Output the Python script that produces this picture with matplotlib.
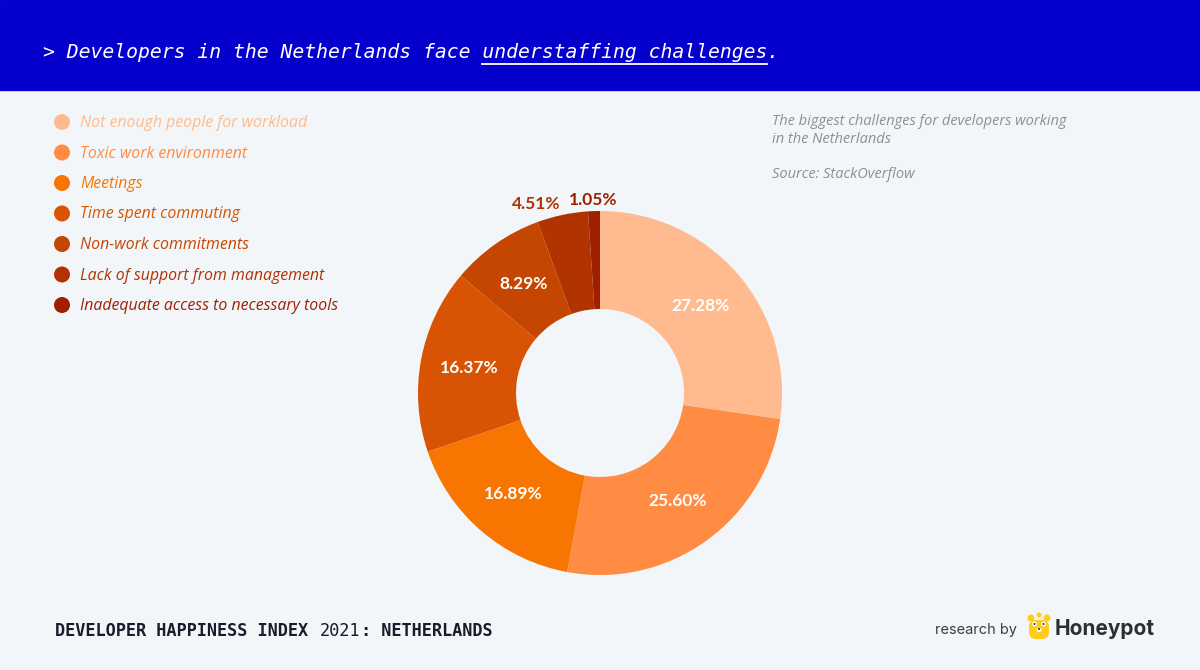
import numpy as np
import matplotlib
matplotlib.use("Agg")
import matplotlib.pyplot as plt
from matplotlib.patches import Rectangle, Circle, Ellipse, FancyBboxPatch

# data
categories = ["Not enough people for workload", "Toxic work environment", "Meetings",
              "Time spent commuting", "Non-work commitments",
              "Lack of support from management", "Inadequate access to necessary tools"]
shares = [27.28, 25.60, 16.89, 16.37, 8.29, 4.51, 1.05]
colors = ["#FFBB8F", "#FF8C42", "#F77500", "#D85404", "#C44601", "#B03300", "#9E2000"]

title_a = "> Developers in the Netherlands face "
title_b = "understaffing challenges"
note = "The biggest challenges for developers working\nin the Netherlands"
source = "Source: StackOverflow"

W, H = 1200, 670
bg = "#F3F6F9"
fig = plt.figure(figsize=(W / 100, H / 100), dpi=100, facecolor=bg)

# background axes in pixel coords (y down)
bgax = fig.add_axes([0, 0, 1, 1])
bgax.set_xlim(0, W)
bgax.set_ylim(H, 0)
bgax.axis("off")
bgax.add_patch(Rectangle((0, 0), W, 90, color="#0500CC", zorder=0))

mono = "DejaVu Sans Mono"
cw = 0.602 * 14.2 * 100 / 72  # char width in px
bgax.text(43, 52, title_a + title_b + ".", color="white", fontsize=14.2, family=mono,
          style="italic", va="center", ha="left")
x0 = 43 + len(title_a) * cw
bgax.plot([x0, x0 + len(title_b) * cw], [64, 64], color="white", lw=1.3)

# legend
for i, (c, col) in enumerate(zip(categories, colors)):
    y = 122 + i * 30.5
    bgax.add_patch(Circle((62, y), 8, color=col, lw=0))
    bgax.text(80, y + 1, c, color=col, fontsize=11.4, family="Open Sans", style="italic",
              va="center", ha="left")

# note
bgax.text(772, 114, note, color="#8A8F99", fontsize=10.5, family="Open Sans", style="italic",
          va="top", ha="left", linespacing=1.25)
bgax.text(772, 175, source, color="#8A8F99", fontsize=10.5, family="Open Sans", style="italic",
          va="center", ha="left")

# footer
fs = 12.2
fw = 0.602 * fs * 100 / 72
p1 = "DEVELOPER HAPPINESS INDEX "
p2 = "2021"
p3 = ": NETHERLANDS"
bgax.text(55, 631, p1, color="#1B1B2B", fontsize=fs, family=mono, weight="bold", va="center")
bgax.text(55 + len(p1) * fw, 631, p2, color="#1B1B2B", fontsize=fs, family=mono, va="center")
bgax.text(55 + (len(p1) + len(p2)) * fw, 631, p3, color="#1B1B2B", fontsize=fs, family=mono,
          weight="bold", va="center")

bgax.text(1017, 630, "research by", color="#3A3D45", fontsize=10.5, family="Inter",
          va="center", ha="right")
# little bear logo
yel = "#FFCC1A"
bgax.add_patch(FancyBboxPatch((1029, 620), 20, 19, boxstyle="round,pad=0,rounding_size=7",
                              color=yel, lw=0))
bgax.add_patch(Circle((1031, 618), 3.5, color=yel, lw=0))
bgax.add_patch(Circle((1047, 618), 3.5, color=yel, lw=0))
bgax.add_patch(Circle((1039, 615), 2.5, color=yel, lw=0))
bgax.add_patch(Circle((1034.5, 624), 2.4, color="white", lw=0))
bgax.add_patch(Circle((1043.5, 624), 2.4, color="white", lw=0))
bgax.add_patch(Circle((1034.5, 624), 1.0, color="#2D2D34", lw=0))
bgax.add_patch(Circle((1043.5, 624), 1.0, color="#2D2D34", lw=0))
bgax.add_patch(Ellipse((1039, 630), 5, 4, color="white", lw=0))
bgax.add_patch(Circle((1039, 629), 1.0, color="#2D2D34", lw=0))
bgax.text(1055, 629, "Honeypot", color="#2D2D34", fontsize=15, family="Inter",
          weight="bold", va="center", ha="left")

# donut
cx, cy, R = 600, 393, 182
ax = fig.add_axes([(cx - R) / W, (H - cy - R) / H, 2 * R / W, 2 * R / H])
wedges, _ = ax.pie(shares, colors=colors, startangle=90, counterclock=False, radius=1,
                   wedgeprops=dict(width=1 - 84 / 182, linewidth=0))
ax.set_xlim(-1, 1)
ax.set_ylim(-1, 1)
ax.axis("off")
for w, v, col in zip(wedges, shares, colors):
    ang = np.deg2rad((w.theta1 + w.theta2) / 2)
    lab = f"{v:.2f}%"
    if v > 6:
        r = (1 + 84 / 182) / 2
        ax.text(r * np.cos(ang), r * np.sin(ang), lab, color="white", fontsize=12.5,
                family="Lato", weight="bold", ha="center", va="center")
    else:
        r = 1.06
        ha = "right" if np.cos(ang) < -0.1 else "center"
        ax.text(r * np.cos(ang), r * np.sin(ang), lab, color=col, fontsize=12.5,
                family="Lato", weight="bold", ha=ha, va="center", clip_on=False)

fig.savefig("out.png", dpi=100, facecolor=bg)
